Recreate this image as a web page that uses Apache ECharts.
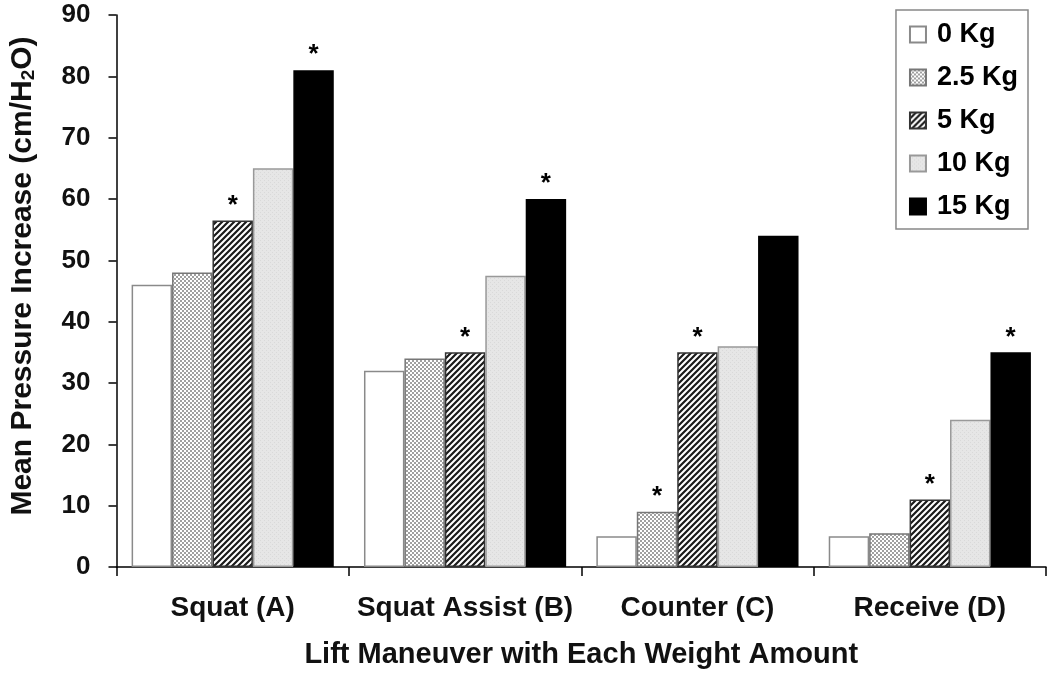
<!DOCTYPE html>
<html>
<head>
<meta charset="utf-8">
<script src="https://cdn.jsdelivr.net/npm/echarts@6/dist/echarts.min.js"></script>
<style>html,body{margin:0;padding:0;background:#fff}#c{width:1050px;height:675px}</style>
</head>
<body>
<div id="c"></div>
<script>
const categories = ['Squat (A)', 'Squat Assist (B)', 'Counter (C)', 'Receive (D)'];
const seriesNames = ['0 Kg', '2.5 Kg', '5 Kg', '10 Kg', '15 Kg'];
const kg0 = [46, 32, 5, 5];
const kg2_5 = [48, 34, 9, 5.5];
const kg5 = [56.5, 35, 35, 11];
const kg10 = [65, 47.5, 36, 24];
const kg15 = [81, 60, 54, 35];
const stars0 = [false, false, false, false];
const stars2_5 = [false, false, true, false];
const stars5 = [true, true, true, true];
const stars10 = [false, false, false, false];
const stars15 = [true, true, false, true];
const yTicks = [0, 10, 20, 30, 40, 50, 60, 70, 80, 90];

function makeCanvas(w, h, draw) {
  const c = document.createElement('canvas');
  c.width = w; c.height = h;
  draw(c.getContext('2d'));
  return c;
}
const checker = makeCanvas(4, 4, g => {
  g.fillStyle = '#ffffff'; g.fillRect(0, 0, 4, 4);
  g.fillStyle = '#a0a0a0';
  g.fillRect(0, 0, 2, 2); g.fillRect(2, 2, 2, 2);
});
const stripes = makeCanvas(6, 6, g => {
  g.fillStyle = '#ffffff'; g.fillRect(0, 0, 6, 6);
  g.strokeStyle = '#1a1a1a'; g.lineWidth = 2.2;
  g.beginPath();
  g.moveTo(-1, 7); g.lineTo(7, -1);
  g.moveTo(-4, 4); g.lineTo(4, -4);
  g.moveTo(2, 10); g.lineTo(10, 2);
  g.stroke();
});
const light = makeCanvas(4, 4, g => {
  g.fillStyle = '#e6e6e6'; g.fillRect(0, 0, 4, 4);
  g.fillStyle = '#d9d9d9';
  g.fillRect(0, 0, 1, 1); g.fillRect(2, 2, 1, 1);
});

const fills = [
  '#ffffff',
  { image: checker, repeat: 'repeat' },
  { image: stripes, repeat: 'repeat' },
  { image: light, repeat: 'repeat' },
  '#000000'
];
const borders = ['#8a8a8a', '#777', '#333', '#999', '#000'];
const values = [kg0, kg2_5, kg5, kg10, kg15];
const stars = [stars0, stars2_5, stars5, stars10, stars15];

const font = 'Liberation Sans, Arial, sans-serif';
const txt = '#111';

const series = seriesNames.map((name, i) => ({
  name: name,
  type: 'bar',
  barGap: '0%',
  barCategoryGap: '13%',
  itemStyle: { color: fills[i], borderColor: borders[i], borderWidth: 1.5 },
  label: {
    show: false, position: 'top', formatter: '*', distance: 2,
    fontSize: 26, fontWeight: 'bold', color: '#000', fontFamily: font
  },
  data: values[i].map((v, j) => ({ value: v, label: { show: stars[i][j] } }))
}));

const chart = echarts.init(document.getElementById('c'), null, { renderer: 'canvas' });
chart.setOption({
  animation: false,
  backgroundColor: '#fff',
  grid: { left: 113, right: 4, top: 15, bottom: 108, containLabel: false },
  legend: {
    orient: 'vertical',
    right: 22, top: 10,
    padding: [11, 10, 9, 13],
    icon: 'rect',
    itemWidth: 16, itemHeight: 16, itemGap: 16,
    borderColor: '#888', borderWidth: 1.5,
    textStyle: { fontSize: 27, fontWeight: 'bold', color: '#000', fontFamily: font, padding: [0, 0, 0, 6] },
    data: seriesNames
  },
  xAxis: {
    type: 'category',
    data: categories,
    axisLine: { lineStyle: { color: '#000', width: 1.5 } },
    axisTick: { show: true, interval: 0, length: 9, lineStyle: { color: '#000', width: 1.5 } },
    axisLabel: { interval: 0, hideOverlap: false, fontSize: 28, fontWeight: 'bold', color: txt, margin: 27, fontFamily: font },
    name: 'Lift Maneuver with Each Weight Amount',
    nameLocation: 'middle',
    nameGap: 73,
    nameMoveOverlap: false,
    nameTextStyle: { fontSize: 29, fontWeight: 'bold', color: txt, fontFamily: font }
  },
  yAxis: {
    type: 'value',
    min: yTicks[0], max: yTicks[yTicks.length - 1], interval: 10,
    axisLine: { show: true, lineStyle: { color: '#000', width: 1.5 } },
    axisTick: { show: true, length: 8, lineStyle: { color: '#000', width: 1.5 } },
    splitLine: { show: false },
    axisLabel: { fontSize: 26, fontWeight: 'bold', color: txt, margin: 26, fontFamily: font },
    name: '{a|Mean Pressure Increase (cm/H}{s|2}{a|O)}',
    nameLocation: 'middle',
    nameGap: 78,
    nameMoveOverlap: false,
    nameTextStyle: {
      padding: [0, 0, 0, 30],
      rich: {
        a: { fontSize: 30, fontWeight: 'bold', color: txt, fontFamily: font },
        s: { fontSize: 19, fontWeight: 'bold', color: txt, fontFamily: font, padding: [12, 0, 0, 0] }
      }
    }
  },
  series: series
});
</script>
</body>
</html>
